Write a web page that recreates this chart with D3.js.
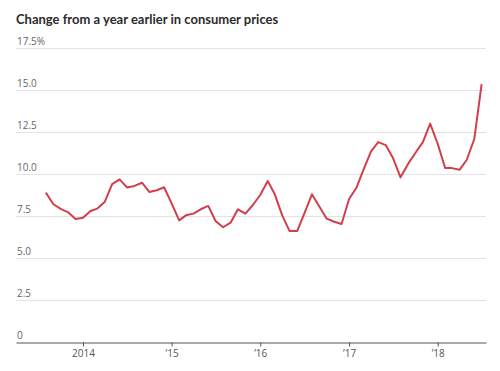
<!DOCTYPE html>
<html>
  <head>
    <title>Consumer prices</title>
    <style>
      body {margin:0; background:#fff;}
      svg {display:block;}
      .title {font-family:Lato, sans-serif; font-size:13px; font-weight:bold; fill:#2b2b2b;}
      .ylab {font-family:"Open Sans", sans-serif; font-size:10px; fill:#666;}
      .xaxis text {font-family:"Open Sans", sans-serif; font-size:10px; fill:#555;}
      .grid line {stroke:#e3e3e3; stroke-width:1px;}
    </style>
    <script src="https://cdn.jsdelivr.net/npm/d3@7"></script>
  </head>
  <body>
    <svg id="chart" width="500" height="371"></svg>
    <script>
      // monthly, Aug 2013 .. Jul 2018
      var startMonth = "2013-08";
      var values = [8.89, 8.2, 7.92, 7.72, 7.32,
                    7.4, 7.8, 7.94, 8.35, 9.4, 9.68, 9.2, 9.29, 9.48, 8.93, 9.03, 9.21,
                    8.25, 7.24, 7.54, 7.64, 7.9, 8.1, 7.2, 6.83, 7.1, 7.9, 7.64, 8.14,
                    8.75, 9.58, 8.79, 7.52, 6.6, 6.6, 7.66, 8.79, 8.05, 7.34, 7.16, 7.02,
                    8.51, 9.2, 10.24, 11.33, 11.9, 11.72, 10.95, 9.8, 10.6, 11.25, 11.9, 13.0,
                    11.8, 10.35, 10.35, 10.25, 10.85, 12.1, 15.35];
      var yTicks  = [0, 2.5, 5, 7.5, 10, 12.5, 15, 17.5];
      var yLabels = ["0", "2.5", "5.0", "7.5", "10.0", "12.5", "15.0", "17.5%"];
      var xTicks  = ["2014-01-01", "2015-01-01", "2016-01-01", "2017-01-01", "2018-01-01"];
      var xLabels = ["2014", "\u201915", "\u201916", "\u201917", "\u201918"];

      var parse = d3.timeParse("%Y-%m");
      var t0 = parse(startMonth);
      var data = values.map(function(v, i) {return {date: d3.timeMonth.offset(t0, i), value: v};});

      var plotLeft = 16, plotRight = 486, plotTop = 48, plotBottom = 342;

      var x = d3.scaleTime()
                .domain([new Date(2013, 2, 31), new Date(2018, 6, 19)])
                .range([plotLeft, plotRight]);
      var y = d3.scaleLinear().domain([0, 17.5]).range([plotBottom, plotTop]);

      var svg = d3.select("#chart");

      svg.append("text")
         .attr("class", "title")
         .attr("x", 16)
         .attr("y", 24)
         .text("Change from a year earlier in consumer prices");

      var grid = svg.append("g").attr("class", "grid");
      grid.selectAll("line")
          .data(yTicks.slice(1))
          .enter()
          .append("line")
          .attr("x1", plotLeft)
          .attr("x2", plotRight)
          .attr("y1", function(d) {return Math.round(y(d)) + 0.5;})
          .attr("y2", function(d) {return Math.round(y(d)) + 0.5;});

      svg.selectAll(".ylab")
         .data(yTicks)
         .enter()
         .append("text")
         .attr("class", "ylab")
         .attr("x", 17)
         .attr("y", function(d) {return y(d) - 3;})
         .text(function(d, i) {return yLabels[i];});

      var xAxis = d3.axisBottom(x)
                    .tickValues(xTicks.map(function(s) {return new Date(s + "T00:00");}))
                    .tickSize(4)
                    .tickSizeOuter(0)
                    .tickPadding(3)
                    .tickFormat(function(d, i) {return xLabels[i];});
      var gx = svg.append("g")
                  .attr("class", "xaxis")
                  .attr("transform", "translate(0," + (Math.round(plotBottom) + 0.5) + ")")
                  .call(xAxis);
      gx.select(".domain").attr("stroke", "#555");
      gx.selectAll(".tick line").attr("stroke", "#555");
      gx.selectAll("text").attr("font-family", null).attr("font-size", null);

      var line = d3.line()
                   .x(function(d) {return x(d.date);})
                   .y(function(d) {return y(d.value);});
      svg.append("path")
         .datum(data)
         .attr("d", line)
         .attr("fill", "none")
         .attr("stroke", "#d23f4c")
         .attr("stroke-width", 2)
         .attr("stroke-linejoin", "round");
    </script>
  </body>
</html>
